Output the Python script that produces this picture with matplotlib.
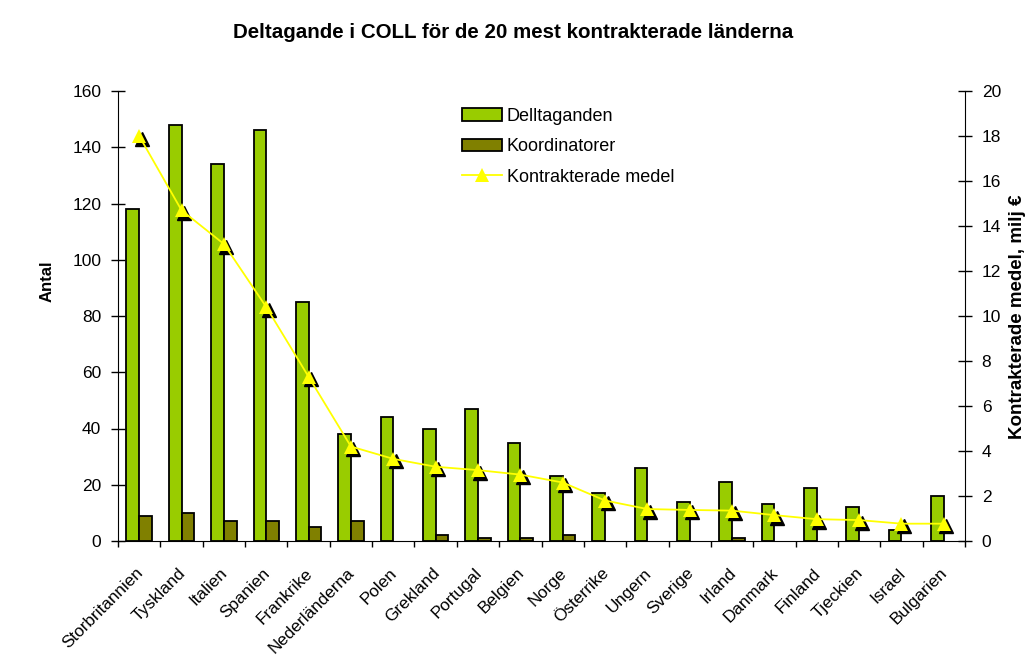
import matplotlib
matplotlib.use("Agg")
import matplotlib.pyplot as plt
import matplotlib.transforms as mtransforms
import numpy as np

countries = ["Storbritannien", "Tyskland", "Italien", "Spanien", "Frankrike",
             "Nederländerna", "Polen", "Grekland", "Portugal", "Belgien",
             "Norge", "Österrike", "Ungern", "Sverige", "Irland",
             "Danmark", "Finland", "Tjeckien", "Israel", "Bulgarien"]
deltaganden = [118, 148, 134, 146, 85, 38, 44, 40, 47, 35,
               23, 17, 26, 14, 21, 13, 19, 12, 4, 16]
koordinatorer = [9, 10, 7, 7, 5, 7, 0, 2, 1, 1,
                 2, 0, 0, 0, 1, 0, 0, 0, 0, 0]
medel = [18.0, 14.7, 13.2, 10.4, 7.3, 4.2, 3.65, 3.3, 3.15, 2.95,
         2.6, 1.8, 1.42, 1.38, 1.35, 1.15, 0.97, 0.93, 0.77, 0.77]

plt.rcParams['font.family'] = ['Liberation Sans', 'DejaVu Sans']

fig = plt.figure(figsize=(10.27, 6.57), dpi=100)
ax = fig.add_axes([118/1027, 1-541/657, (965-118)/1027, 450/657])
ax2 = ax.twinx()

x = np.arange(len(countries))
w = 0.3
ax.bar(x - w/2, deltaganden, w, color="#99CC00", edgecolor="black",
       linewidth=[1.3 if v > 0 else 0 for v in deltaganden],
       label="Delltaganden", zorder=2)
ax.bar(x + w/2, koordinatorer, w, color="#808000", edgecolor="black",
       linewidth=[1.3 if v > 0 else 0 for v in koordinatorer],
       label="Koordinatorer", zorder=2)

# shadow of triangle markers
shadow = mtransforms.offset_copy(ax2.transData, fig=fig, x=2.5, y=-2.5, units='dots')
ax2.plot(x, medel, linestyle='none', marker='^', markersize=10,
         color='black', transform=shadow, zorder=3)
ax2.plot(x, medel, color="#FFFF00", linewidth=1.3, marker='^', markersize=10,
         markeredgewidth=0, label="Kontrakterade medel", zorder=4)

ax.set_xlim(-0.5, len(countries) - 0.5)
ax.set_ylim(0, 160)
ax2.set_ylim(0, 20)
ax.set_yticks(np.arange(0, 161, 20))
ax2.set_yticks(np.arange(0, 21, 2))

ax.set_xticks(x)
ax.set_xticklabels(countries, rotation=45, ha='right', va='top',
                   rotation_mode='anchor', fontsize=12.3)
ax.set_xticks(np.arange(-0.5, len(countries), 1), minor=True)
ax.tick_params(axis='x', which='major', length=0, pad=17.5)
ax.tick_params(axis='x', which='minor', length=4.5, direction='out', width=1)
ax.tick_params(axis='y', direction='inout', length=10, width=1, labelsize=12.5, pad=7)
ax2.tick_params(axis='y', direction='inout', length=10, width=1, labelsize=12.5, pad=7)

shift = mtransforms.ScaledTranslation(-4/100, 0, fig.dpi_scale_trans)
for lab in ax.get_xticklabels():
    lab.set_transform(lab.get_transform() + shift)

for a in (ax, ax2):
    a.spines['top'].set_visible(False)
ax2.spines['left'].set_visible(False)
ax2.spines['bottom'].set_visible(False)
ax.spines['right'].set_visible(False)

ax.set_ylabel("Antal", fontsize=12, fontweight='bold', va='center')
ax.yaxis.set_label_coords((47-118)/847, (541-281)/450)
ax2.set_ylabel("Kontrakterade medel, milj €", fontsize=13.5, fontweight='bold', va='center')
ax2.yaxis.set_label_coords((1017-118)/847, (541-317)/450)

fig.suptitle("Deltagande i COLL för de 20 mest kontrakterade länderna",
             fontsize=14.8, fontweight='bold', y=1-33/657, va='center')

h1, l1 = ax.get_legend_handles_labels()
h2, l2 = ax2.get_legend_handles_labels()
ax2.legend(h1 + h2, l1 + l2, loc='upper left', bbox_to_anchor=(0.3867, 0.999),
           frameon=False, fontsize=13, handlelength=2.2, labelspacing=0.75,
           handletextpad=0.3)

fig.savefig("out.png", dpi=100)
